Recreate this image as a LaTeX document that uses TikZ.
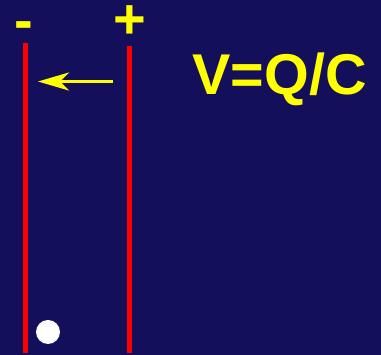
\documentclass[tikz,border=0pt]{standalone}
\usepackage{fontspec}
\setmainfont{Liberation Sans}
\usetikzlibrary{arrows.meta}
\definecolor{capbg}{RGB}{20,15,90}
\definecolor{capyel}{RGB}{255,255,0}
\definecolor{capred}{RGB}{255,0,0}
\tikzset{capplate/.style={capred,line width=5pt},
         capsign/.style={text=capyel,font=\fontsize{56}{60}\selectfont\bfseries,inner sep=0pt,text height=32pt},
         caplaw/.style={text=capyel,font=\fontsize{57.5}{60}\selectfont\bfseries,inner sep=0pt},
         capfield/.style={capyel,line width=3.5pt,-{Stealth[length=31pt,width=18pt,inset=9pt]}},
         capdot/.style={circle,fill=white,minimum size=24pt,inner sep=0pt}}
\begin{document}
\begin{tikzpicture}[x=1pt,y=-1pt]
    \fill[capbg] (0,0) rectangle (381,355);
    \useasboundingbox (0,0) rectangle (381,355);
    \coordinate (ltop) at (25.5,43); \coordinate (lbot) at (25.5,353);
    \coordinate (rtop) at (129.5,46); \coordinate (rbot) at (129.5,353);
    \draw[capplate] (ltop)--(lbot); \draw[capplate] (rtop)--(rbot);
    \node[capsign,anchor=base] (minus) at (24,40) {-};
    \node[capsign,anchor=base] (plus) at (130,39) {+};
    \coordinate (fstart) at (113,81.5); \coordinate (fend) at (38,81.5);
    \draw[capfield] (fstart)--(fend);
    \node[caplaw,anchor=base] (law) at (279.5,95) {V=Q/C};
    \node[capdot] (charge) at (48,332) {};
\end{tikzpicture}
\end{document}
